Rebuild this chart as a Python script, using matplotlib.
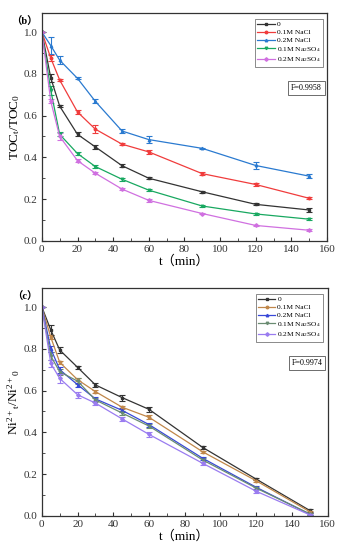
import matplotlib
matplotlib.use('Agg')
import matplotlib.pyplot as plt
from matplotlib.lines import Line2D
from matplotlib.ticker import MultipleLocator

plt.rcParams['font.family'] = ['Liberation Serif', 'Noto Sans CJK SC']
plt.rcParams['mathtext.fontset'] = 'custom'
plt.rcParams['mathtext.rm'] = 'Liberation Serif'
plt.rcParams['mathtext.it'] = 'Liberation Serif'

# Time points (min)
t = [0, 5, 10, 20, 30, 45, 60, 90, 120, 150]

labels = ['0', '0.1M NaCl', '0.2M NaCl', '0.1M Na$_2$SO$_4$', '0.2M Na$_2$SO$_4$']

# (b) TOC removal
toc_0 = [1.0, 0.78, 0.645, 0.51, 0.45, 0.36, 0.30, 0.235, 0.175, 0.148]
toc_nacl_01 = [1.0, 0.875, 0.77, 0.617, 0.535, 0.463, 0.426, 0.322, 0.27, 0.204]
toc_nacl_02 = [1.0, 0.935, 0.865, 0.778, 0.668, 0.526, 0.485, 0.443, 0.361, 0.31]
toc_na2so4_01 = [1.0, 0.72, 0.51, 0.418, 0.356, 0.295, 0.243, 0.167, 0.129, 0.104]
toc_na2so4_02 = [1.0, 0.668, 0.50, 0.384, 0.324, 0.248, 0.194, 0.131, 0.074, 0.051]

toc_err_0 = [0, 0.02, 0.006, 0.01, 0.008, 0.006, 0.006, 0.004, 0.005, 0.008]
toc_err_nacl_01 = [0, 0.015, 0.006, 0.01, 0.018, 0.006, 0.01, 0.008, 0.005, 0.004]
toc_err_nacl_02 = [0, 0.04, 0.02, 0.005, 0.01, 0.01, 0.018, 0.004, 0.016, 0.008]
toc_err_na2so4_01 = [0, 0.02, 0.01, 0.006, 0.006, 0.006, 0.006, 0.004, 0.004, 0.004]
toc_err_na2so4_02 = [0, 0.01, 0.015, 0.006, 0.005, 0.006, 0.008, 0.004, 0.004, 0.004]

# (c) Ni2+ removal
ni_0 = [1.0, 0.89, 0.794, 0.711, 0.627, 0.566, 0.51, 0.328, 0.176, 0.026]
ni_nacl_01 = [1.0, 0.855, 0.735, 0.652, 0.595, 0.52, 0.472, 0.307, 0.168, 0.02]
ni_nacl_02 = [1.0, 0.80, 0.70, 0.628, 0.56, 0.505, 0.437, 0.276, 0.137, 0.008]
ni_na2so4_01 = [1.0, 0.765, 0.69, 0.645, 0.555, 0.492, 0.43, 0.268, 0.133, 0.01]
ni_na2so4_02 = [1.0, 0.73, 0.658, 0.58, 0.54, 0.464, 0.39, 0.252, 0.118, 0.005]

ni_err_0 = [0, 0.025, 0.015, 0.006, 0.008, 0.015, 0.012, 0.006, 0.006, 0.006]
ni_err_nacl_01 = [0, 0.01, 0.008, 0.006, 0.008, 0.008, 0.01, 0.006, 0.006, 0.004]
ni_err_nacl_02 = [0, 0.015, 0.015, 0.01, 0.01, 0.01, 0.01, 0.008, 0.006, 0.004]
ni_err_na2so4_01 = [0, 0.02, 0.015, 0.015, 0.01, 0.01, 0.01, 0.008, 0.006, 0.004]
ni_err_na2so4_02 = [0, 0.015, 0.02, 0.015, 0.01, 0.008, 0.01, 0.006, 0.006, 0.004]

markers = ['s', 'o', '^', 'v', 'D']
colors_b = ['#333333', '#f03c3c', '#2a7ad0', '#18a860', '#d070e0']
colors_c = ['#333333', '#c0874a', '#3848d8', '#6a8c72', '#9a7cf0']


def plot_panel(ax, series, errors, colors, ylabel, panel, fval):
    handles = []
    for y, e, c, m, lab in zip(series, errors, colors, markers, labels):
        ax.errorbar(t, y, yerr=e, color=c, marker=m, markersize=1.8, lw=0.9,
                    elinewidth=0.8, capsize=2, capthick=0.8)
        handles.append(Line2D([], [], color=c, marker=m, markersize=1.8, lw=0.9, label=lab))
    ax.set_xlim(0, 160)
    ax.set_ylim(0, 1.09)
    ax.xaxis.set_major_locator(MultipleLocator(20))
    ax.xaxis.set_minor_locator(MultipleLocator(10))
    ax.yaxis.set_major_locator(MultipleLocator(0.2))
    ax.yaxis.set_minor_locator(MultipleLocator(0.1))
    ax.tick_params(which='both', direction='in', labelsize=8, colors='#333333', pad=3)
    ax.tick_params(which='major', length=3, width=0.8)
    ax.tick_params(which='minor', length=2, width=0.6)
    for s in ax.spines.values():
        s.set_linewidth(0.9)
        s.set_color('#333333')
    ax.set_xlabel('t（min）', fontsize=9.5, labelpad=1)
    ax.set_ylabel(ylabel, fontsize=9.5, labelpad=1)
    leg = ax.legend(handles=handles, loc='upper right', bbox_to_anchor=(0.985, 0.975),
                    fontsize=5.4, frameon=True, fancybox=False, edgecolor='#555555',
                    handlelength=2.3, handletextpad=0.3, borderpad=0.3,
                    labelspacing=0.22, borderaxespad=0)
    leg.get_frame().set_linewidth(0.6)
    ax.text(0.982, 0.69, fval, transform=ax.transAxes, ha='right', va='top',
            fontsize=5.8, bbox=dict(boxstyle='square,pad=0.35', fc='white',
                                    ec='#555555', lw=0.6))
    ax.text(-0.015, 0.985, panel, transform=ax.transAxes, ha='right', va='top',
            fontsize=7.5, fontweight='bold')


fig = plt.figure(figsize=(3.46, 5.5), dpi=100)
ax1 = fig.add_axes([0.121, 0.562, 0.824, 0.414])
ax2 = fig.add_axes([0.121, 0.062, 0.826, 0.414])

plot_panel(ax1, [toc_0, toc_nacl_01, toc_nacl_02, toc_na2so4_01, toc_na2so4_02],
           [toc_err_0, toc_err_nacl_01, toc_err_nacl_02, toc_err_na2so4_01, toc_err_na2so4_02],
           colors_b, 'TOC$_t$/TOC$_0$', '（b）', 'F=0.9958')
plot_panel(ax2, [ni_0, ni_nacl_01, ni_nacl_02, ni_na2so4_01, ni_na2so4_02],
           [ni_err_0, ni_err_nacl_01, ni_err_nacl_02, ni_err_na2so4_01, ni_err_na2so4_02],
           colors_c, 'Ni$^{2+}$$_t$/Ni$^{2+}$$_0$', '（c）', 'F=0.9974')

fig.savefig('out.png', dpi=100)
